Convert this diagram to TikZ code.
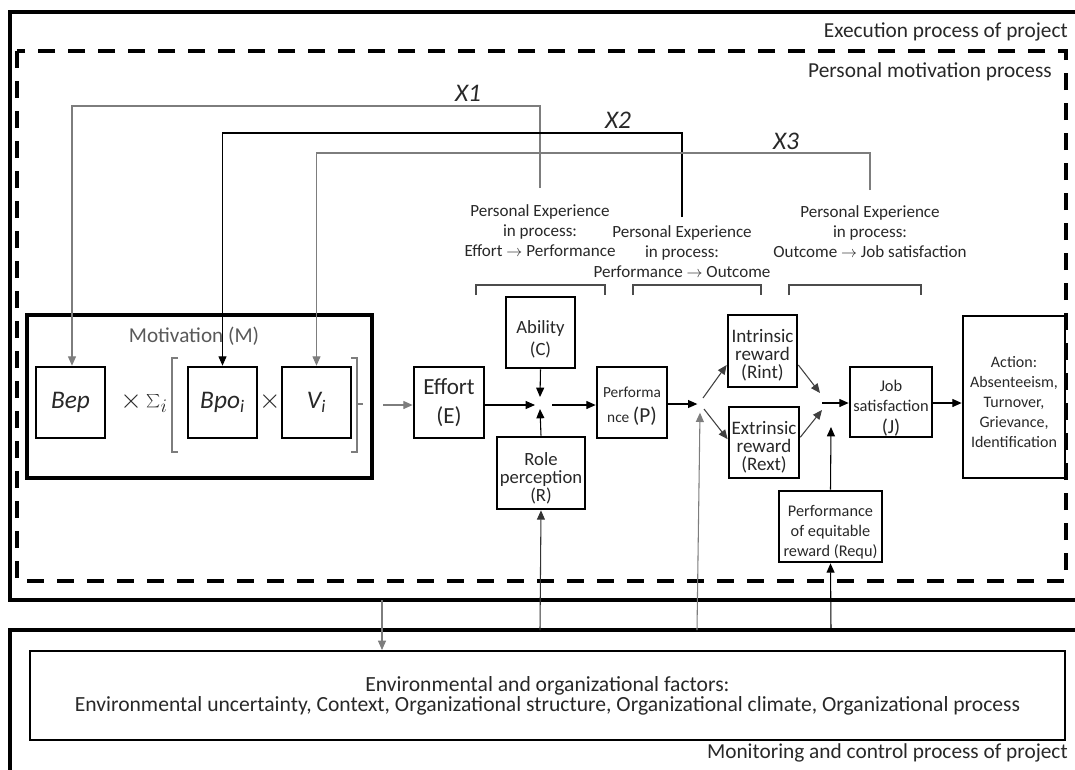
\documentclass[tikz,border=0pt]{standalone}
\usepackage{fontspec}
\setmainfont{Carlito}
\usetikzlibrary{arrows.meta}
\definecolor{txt}{RGB}{40,40,40}
\definecolor{ln}{RGB}{125,125,125}
\begin{document}
\begin{tikzpicture}[x=0.75pt,y=-0.75pt,
  sz/.style 2 args={minimum width=#1*0.75pt, minimum height=#2*0.75pt},
  box/.style={draw, line width=2pt, inner sep=0pt, align=center, text=txt},
  lab/.style={inner sep=0pt, align=center, text=txt},
  thinln/.style={line width=0.8pt},
  arr/.style={line width=0.8pt, -{Triangle[length=7pt,width=6pt]}},
  frame/.style={line width=3pt},
  dashframe/.style={line width=3.2pt, dash pattern=on 12.75pt off 9.75pt},
  fexp/.style={font=\fontsize{12.8}{15}\selectfont},
  fbox/.style={font=\fontsize{14.3}{13.6}\selectfont},
  ftitle/.style={font=\fontsize{16}{18}\selectfont},
  fvar/.style={font=\fontsize{19}{20}\selectfont\itshape},
  fx/.style={font=\fontsize{19}{20}\selectfont\itshape},
]
\useasboundingbox (0,0) rectangle (1075,769);
\clip (0,0) rectangle (1075,769);

% process frames
\draw[frame] (1090,12) -- (10,12) -- (10,600) -- (1090,600);
\draw[frame] (1090,630) -- (10,630) -- (10,780);
\draw[dashframe] (17,51) rectangle (1066,581);
\node[lab, ftitle, anchor=east] (exec) at (1068,32) {Execution process of project};
\node[lab, ftitle, anchor=east] (pmp) at (1052,72) {Personal motivation process};
\node[lab, ftitle, anchor=east] (mon) at (1068,753) {Monitoring and control process of project};

% environment box
\node[box, line width=1.5pt, sz={1035}{89}, font=\fontsize{16.2}{14}\selectfont] (env) at (547.5,695.5)
  {Environmental and organizational factors:\\Environmental uncertainty, Context, Organizational structure, Organizational climate, Organizational process};

% motivation
\node[box, line width=2.5pt, sz={345}{163}] (M) at (199.5,396.5) {};
\node[lab, font=\fontsize{15.9}{16}\selectfont, text=black!65] (Mlab) at (194,336) {Motivation (M)};
\node[box, sz={69}{71}, fvar] (bep) at (70.5,402.5) {Bep};
\node[lab, font=\fontsize{20}{20}\selectfont] (tsum) at (144,402) {$\times\sum_{i}$};
\node[box, sz={69}{71}, fvar] (bpo) at (222.5,402.5) {Bpo\textsubscript{i}};
\node[lab, font=\fontsize{20}{20}\selectfont] (tmul) at (270,402) {$\times$};
\node[box, sz={69}{71}, fvar] (vi) at (316.5,402.5) {V\textsubscript{i}};
\draw[thinln, ln] (178,358) -- (172,358) -- (172,452) -- (178,452);
\draw[thinln, ln] (351,358) -- (357,358) -- (357,452) -- (351,452);
\draw[thinln, ln] (357,404) -- (363,404);

% main chain boxes
\node[box, sz={70}{71}, font=\fontsize{17.3}{21.5}\selectfont] (E) at (449,402.5) {Effort\\(E)};
\node[box, sz={69}{71}] (C) at (540.5,332.5) {};
\node[lab, font=\fontsize{14}{16.5}\selectfont] (Ct) at ([shift={(0,6.5)}]C.center) {Ability\\(C)};
\node[box, sz={88}{72}] (R) at (541,473) {};
\node[lab, font=\fontsize{14}{13.6}\selectfont] (Rt) at ([shift={(0,5)}]R.center) {Role\\perception\\(R)};
\node[box, sz={70}{71}] (P) at (632,402.5) {};
\node[lab, font=\fontsize{11.5}{18.75}\selectfont] (Pt) at ([shift={(0,4)}]P.center) {Performa\\nce {\fontsize{16}{16}\selectfont(P)}};
\node[box, sz={69}{72}] (Ri) at (762.5,351) {};
\node[lab, fbox] (Rit) at ([shift={(0,4)}]Ri.center) {Intrinsic\\reward\\(Rint)};
\node[box, sz={70}{71}] (Re) at (764,442.5) {};
\node[lab, fbox] (Ret) at ([shift={(0,4.5)}]Re.center) {Extrinsic\\reward\\(Rext)};
\node[box, sz={82}{70}] (J) at (891,402) {};
\node[lab, font=\fontsize{12.3}{15}\selectfont] (Jt) at ([shift={(0,6)}]J.center) {Job\\satisfaction\\[1.5pt]{\fontsize{15}{15}\selectfont(J)}};
\node[box, sz={102}{162}] (A) at (1014,397) {};
\node[lab, font=\fontsize{12}{15}\selectfont] (At) at ([shift={(0,5)}]A.center) {Action:\\Absenteeism,\\Turnover,\\Grievance,\\Identification};
\node[box, sz={103}{71}] (Rq) at (830.5,526.5) {};
\node[lab, font=\fontsize{12.2}{15}\selectfont] (Rqt) at ([shift={(0,5.5)}]Rq.center) {Performance\\of equitable\\reward (Requ)};

\coordinate (j1) at (540,405);
\coordinate (j2) at (700,404);
\coordinate (j3) at (822,403);
\coordinate (j3r) at (831,427);
\coordinate (mout) at (383,405);
\coordinate (b1) at (382,600);
\coordinate (b2) at (540,630);
\coordinate (b3) at (697,630);
\coordinate (b4) at (831,630);

\draw[arr, ln] (mout) -- (E.west |- mout);
\draw[arr] (E.east |- j1) -- ([xshift=-3.75pt]j1);
\draw[arr] (C.south) -- ([yshift=6pt]j1);
\draw[arr] (R.north) -- ([yshift=-3pt]j1);
\draw[arr] ([xshift=9pt]j1) -- (P.west |- j1);
\draw[arr] (P.east |- j2) -- ([xshift=-2pt]j2);
\draw[arr, ln] (b3) -- ([yshift=-6.5pt]j2);
\draw[arr, black!75] ([shift={(3,-6)}]j2) -- ([yshift=-10.5pt]Ri.west);
\draw[arr, black!75] ([shift={(4,5)}]j2) -- ([yshift=2.5pt]Re.west);
\draw[arr, black!75] ([yshift=-10.5pt]Ri.east) -- ([shift={(-2,-10)}]j3);
\draw[arr, black!75] ([yshift=4pt]Re.east) -- ([shift={(0,7)}]j3);
\draw[arr] (Rq.north) -- (j3r);
\draw[arr] (j3) -- (J.west |- j3);
\draw[arr] (J.east |- j3) -- (A.west |- j3);
\draw[arr] (b4) -- (Rq.south);
\draw[arr, black!80] (b2) -- (R.south);
\draw[arr, ln] (b1) -- (env.north -| b1);

% experience labels and brackets
\node[lab, fexp] (pe1) at (540,231) {Personal Experience\\in process:\\Effort $\rightarrow$ Performance};
\node[lab, fexp] (pe2) at (682,252) {Personal Experience\\in process:\\Performance $\rightarrow$ Outcome};
\node[lab, fexp] (pe3) at (870,232) {Personal Experience\\in process:\\Outcome $\rightarrow$ Job satisfaction};
\draw[thinln, black!70] (476,295) -- (476,285) -- (605,285) -- (605,295);
\draw[thinln, black!70] (633,295) -- (633,285) -- (761,285) -- (761,295);
\draw[thinln, black!70] (789,295) -- (789,285) -- (921,285) -- (921,295);

% feedback loops
\coordinate (x1s) at (540,188);
\coordinate (x2s) at (682,217);
\coordinate (x3s) at (870,190);
\draw[arr, ln] (x1s) -- (540,106) -| (bep.north -| 72,0);
\draw[arr] (x2s) -- (682,133) -| (bpo.north);
\draw[arr, ln] (x3s) -- (870,153) -| (vi.north);
\node[lab, fx] (X1) at (468,93) {X1};
\node[lab, fx] (X2) at (618,120) {X2};
\node[lab, fx] (X3) at (786,141) {X3};
\end{tikzpicture}
\end{document}
